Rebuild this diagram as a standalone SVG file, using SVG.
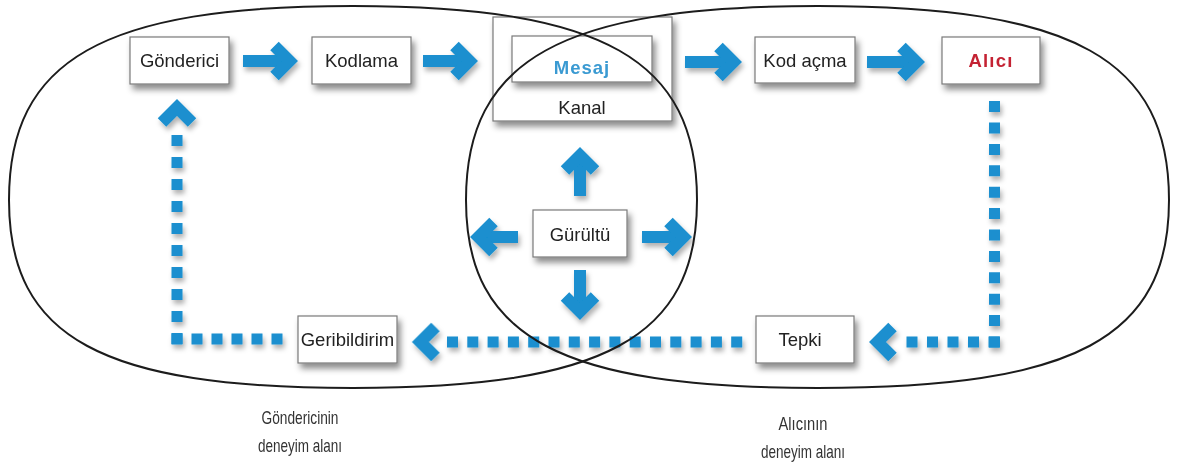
<svg xmlns="http://www.w3.org/2000/svg" xmlns:xlink="http://www.w3.org/1999/xlink" width="1177" height="465" viewBox="0 0 1177 465">
<style>
  .box { fill: #ffffff; stroke: #7a7a7a; stroke-width: 1.2; filter: url(#boxShadow); }
  .lbl { font-family: "Liberation Sans", Arial, sans-serif; font-size: 18.5px; fill: #222222; text-anchor: middle; }
  .cap { font-family: "Liberation Sans", Arial, sans-serif; font-size: 18.5px; fill: #333333; text-anchor: middle; }
  .shaft { stroke: #1a8fcf; stroke-width: 12; fill: none; }
  .dash { stroke: #1a8fcf; stroke-width: 11; fill: none; }
  .area { fill: none; stroke: #1c1c1c; stroke-width: 2; }
</style>
<defs>
  <filter id="boxShadow" x="-20%" y="-20%" width="150%" height="160%">
    <feDropShadow dx="3" dy="5" stdDeviation="3" flood-color="#000" flood-opacity="0.45"/>
  </filter>
  <filter id="arrowShadow" x="-30%" y="-30%" width="170%" height="170%">
    <feDropShadow dx="2" dy="4" stdDeviation="2.5" flood-color="#000" flood-opacity="0.3"/>
  </filter>
  <path id="head" d="M-15,-15 L0,0 L-15,15" fill="none" stroke="#1a8fcf" stroke-width="12" stroke-linejoin="miter" stroke-miterlimit="4"/>
</defs>
<rect width="1177" height="465" fill="#ffffff"/>

<g id="connectors" filter="url(#arrowShadow)">
  <line class="shaft" x1="243" y1="61" x2="289.5" y2="61"/>
  <use xlink:href="#head" transform="translate(289.5,61)"/>
  <line class="shaft" x1="423" y1="61" x2="469.5" y2="61"/>
  <use xlink:href="#head" transform="translate(469.5,61)"/>
  <line class="shaft" x1="685" y1="62" x2="733.5" y2="62"/>
  <use xlink:href="#head" transform="translate(733.5,62)"/>
  <line class="shaft" x1="867" y1="62" x2="916.5" y2="62"/>
  <use xlink:href="#head" transform="translate(916.5,62)"/>
  <line class="shaft" x1="580" y1="196" x2="580" y2="155.5"/>
  <use xlink:href="#head" transform="translate(580,155.5) rotate(-90)"/>
  <line class="shaft" x1="518" y1="237" x2="478.5" y2="237"/>
  <use xlink:href="#head" transform="translate(478.5,237) rotate(180)"/>
  <line class="shaft" x1="642" y1="237" x2="683.5" y2="237"/>
  <use xlink:href="#head" transform="translate(683.5,237)"/>
  <line class="shaft" x1="580" y1="270" x2="580" y2="311.5"/>
  <use xlink:href="#head" transform="translate(580,311.5) rotate(90)"/>
  <path class="dash" d="M994.5,347.5 V97" stroke-dasharray="11 10.4"/>
  <path class="dash" d="M999.5,342 H900" stroke-dasharray="11 9.5"/>
  <use xlink:href="#head" transform="translate(877.5,342) rotate(180)"/>
  <path class="dash" d="M447,342 H742.5" stroke-dasharray="11 9.3"/>
  <use xlink:href="#head" transform="translate(420.5,342) rotate(180)"/>
  <path class="dash" d="M171.5,339 H290" stroke-dasharray="11 9"/>
  <path class="dash" d="M177,344 V134" stroke-dasharray="11 11"/>
  <use xlink:href="#head" transform="translate(177,107.5) rotate(-90)"/>
</g>

<g id="gonderici">
  <rect class="box" x="130" y="37" width="99" height="47"/>
  <text class="lbl" x="179.5" y="67">Gönderici</text>
</g>
<g id="kodlama">
  <rect class="box" x="312" y="37" width="99" height="47"/>
  <text class="lbl" x="361.5" y="66.5">Kodlama</text>
</g>
<g id="kanal">
  <rect class="box" x="493" y="17" width="179" height="104"/>
  <text class="lbl" x="582" y="114" font-size="17.5px">Kanal</text>
</g>
<g id="mesaj">
  <rect class="box" x="512" y="36" width="140" height="46"/>
  <text class="lbl" x="582" y="74" font-weight="bold" font-size="18px" letter-spacing="1" style="fill:#3a9ad2">Mesaj</text>
</g>
<g id="kod-acma">
  <rect class="box" x="755" y="37" width="100" height="46"/>
  <text class="lbl" x="805" y="66.5">Kod açma</text>
</g>
<g id="alici">
  <rect class="box" x="942" y="37" width="98" height="47"/>
  <text class="lbl" x="991" y="67" font-weight="bold" font-size="17px" letter-spacing="1.2" style="fill:#c42233">Alıcı</text>
</g>
<g id="gurultu">
  <rect class="box" x="533" y="210" width="94" height="47"/>
  <text class="lbl" x="580" y="240.5">Gürültü</text>
</g>
<g id="geribildirim">
  <rect class="box" x="298" y="316" width="99" height="47"/>
  <text class="lbl" x="347.5" y="346" font-size="17.8px">Geribildirim</text>
</g>
<g id="tepki">
  <rect class="box" x="756" y="316" width="98" height="47"/>
  <text class="lbl" x="800" y="346">Tepki</text>
</g>

<g id="areas">
  <path class="area" d="M697,200 C697,60 604,6 353,6 C102,6 9,60 9,200 C9,338 102,388 353,388 C604,388 697,338 697,200 Z"/>
  <path class="area" d="M1169,200 C1169,60 1075,6 818,6 C561,6 466,60 466,200 C466,338 561,388 818,388 C1075,388 1169,338 1169,200 Z"/>
</g>

<g id="captions">
  <text class="cap" x="300" y="424" textLength="77" lengthAdjust="spacingAndGlyphs">Göndericinin</text>
  <text class="cap" x="300" y="452" textLength="84" lengthAdjust="spacingAndGlyphs">deneyim alanı</text>
  <text class="cap" x="803" y="430" textLength="49" lengthAdjust="spacingAndGlyphs">Alıcının</text>
  <text class="cap" x="803" y="458" textLength="84" lengthAdjust="spacingAndGlyphs">deneyim alanı</text>
</g>
</svg>
